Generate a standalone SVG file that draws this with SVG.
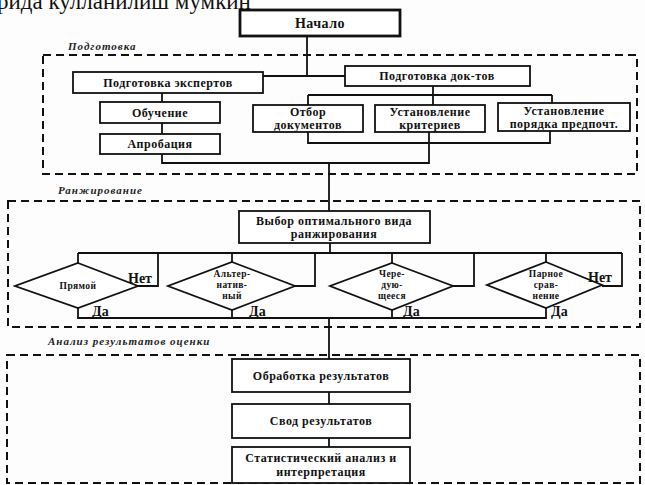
<svg xmlns="http://www.w3.org/2000/svg" width="645" height="485" viewBox="0 0 645 485">
  <style>
    .box { fill: #fff; stroke: #111; stroke-width: 1.8; }
    .start { fill: #fff; stroke: #111; stroke-width: 2.8; }
    .dia { fill: #fff; stroke: #111; stroke-width: 1.8; }
    .zone { fill: none; stroke: #111; stroke-width: 2; stroke-dasharray: 8 5; }
    .wire { fill: none; stroke: #111; stroke-width: 1.8; }
    .t { font-family: "Liberation Serif", "DejaVu Serif", serif; font-size: 12px; letter-spacing: 0.5px; font-weight: bold; fill: #111; text-anchor: middle; }
    .big { font-size: 14px; }
    .ts { font-family: "Liberation Serif", "DejaVu Serif", serif; font-size: 9.5px; letter-spacing: 0.4px; font-weight: bold; fill: #111; text-anchor: middle; }
    .yn { font-family: "Liberation Serif", "DejaVu Serif", serif; font-size: 14px; font-weight: bold; fill: #111; }
    .lbl { font-family: "Liberation Serif", "DejaVu Serif", serif; font-size: 11px; letter-spacing: 1px; font-style: italic; font-weight: bold; fill: #222; }
    .head { font-family: "Liberation Serif", "DejaVu Serif", serif; font-size: 23px; fill: #111; }
  </style>
  <rect width="645" height="485" fill="#fdfdfd"/>

  <text class="head" x="-3" y="9">рида кулланилиш мумкин</text>

  <!-- stage frames -->
  <g id="zones">
    <rect class="zone" x="43" y="55" width="594" height="119"/>
    <text class="lbl" x="68" y="50">Подготовка</text>
    <rect class="zone" x="8" y="201" width="632" height="126"/>
    <text class="lbl" x="58" y="194">Ранжирование</text>
    <rect class="zone" x="7" y="355" width="633" height="128"/>
    <text class="lbl" x="48" y="345">Анализ результатов оценки</text>
  </g>

  <!-- connectors -->
  <g id="connectors">
    <path class="wire" d="M307 36 V76 M263 76 H345"/>
    <path class="wire" d="M162 93 V102 M162 123 V134 M162 154 V163 H429 V132"/>
    <path class="wire" d="M433 86 V95 M308 95 H552 M308 95 V105 M433 95 V105 M552 95 V103"/>
    <path class="wire" d="M308 132 V143 H550 V131"/>
    <path class="wire" d="M329 163 V211"/>
    <path class="wire" d="M330 243 V253 M78 253 H622"/>
    <path class="wire" d="M78 253 V263 M232 253 V262 M392 253 V263 M546 253 V262"/>
    <path class="wire" d="M138 286 H158 V253 M295 286 H315 V253 M453 286 H474 V253 M602 286 H622 V253"/>
    <path class="wire" d="M78 308 V318 H546 V308 M232 310 V318 M392 310 V318"/>
    <path class="wire" d="M329 318 V359 M329 392 V404 M329 438 V447"/>
  </g>

  <g id="start">
    <rect class="start" x="240" y="10" width="160" height="26"/>
    <text class="t big" x="320" y="28">Начало</text>
  </g>

  <g id="prep-experts">
    <rect class="box" x="73" y="72" width="190" height="21"/>
    <text class="t" x="168" y="87">Подготовка экспертов</text>
  </g>
  <g id="prep-docs">
    <rect class="box" x="345" y="66" width="185" height="20"/>
    <text class="t" x="437" y="80">Подготовка док-тов</text>
  </g>
  <g id="training">
    <rect class="box" x="100" y="102" width="120" height="21"/>
    <text class="t" x="160" y="117">Обучение</text>
  </g>
  <g id="approbation">
    <rect class="box" x="100" y="134" width="120" height="20"/>
    <text class="t" x="160" y="148">Апробация</text>
  </g>
  <g id="doc-selection">
    <rect class="box" x="253" y="105" width="110" height="27"/>
    <text class="t" x="308" y="116">Отбор</text>
    <text class="t" x="308" y="129">документов</text>
  </g>
  <g id="criteria">
    <rect class="box" x="375" y="105" width="110" height="27"/>
    <text class="t" x="430" y="116">Установление</text>
    <text class="t" x="430" y="129">критериев</text>
  </g>
  <g id="preference-order">
    <rect class="box" x="498" y="103" width="132" height="28"/>
    <text class="t" x="564" y="115">Установление</text>
    <text class="t" x="564" y="128">порядка предпочт.</text>
  </g>

  <g id="ranking-choice">
    <rect class="box" x="239" y="211" width="191" height="32"/>
    <text class="t" x="334" y="225">Выбор оптимального вида</text>
    <text class="t" x="334" y="238">ранжирования</text>
  </g>

  <g id="direct">
    <polygon class="dia" points="78,263 138,286 78,308 15,286"/>
    <text class="ts" x="78" y="289">Прямой</text>
    <text class="yn" x="128" y="283">Нет</text>
    <text class="yn" x="92" y="316">Да</text>
  </g>
  <g id="alternative">
    <polygon class="dia" points="232,262 295,286 232,310 168,286"/>
    <text class="ts" x="232" y="277">Альтер-</text>
    <text class="ts" x="232" y="288">натив-</text>
    <text class="ts" x="232" y="299">ный</text>
    <text class="yn" x="249" y="316">Да</text>
  </g>
  <g id="alternating">
    <polygon class="dia" points="392,263 453,286 392,310 330,286"/>
    <text class="ts" x="392" y="277">Чере-</text>
    <text class="ts" x="392" y="288">дую-</text>
    <text class="ts" x="392" y="299">щееся</text>
    <text class="yn" x="403" y="316">Да</text>
  </g>
  <g id="pairwise">
    <polygon class="dia" points="546,262 602,285 546,308 487,285"/>
    <text class="ts" x="546" y="277">Парное</text>
    <text class="ts" x="546" y="288">срав-</text>
    <text class="ts" x="546" y="299">нение</text>
    <text class="yn" x="588" y="282">Нет</text>
    <text class="yn" x="551" y="316">Да</text>
  </g>

  <g id="processing">
    <rect class="box" x="232" y="359" width="178" height="33"/>
    <text class="t" x="321" y="380">Обработка результатов</text>
  </g>
  <g id="summary">
    <rect class="box" x="232" y="404" width="178" height="34"/>
    <text class="t" x="321" y="425">Свод результатов</text>
  </g>
  <g id="analysis">
    <rect class="box" x="232" y="447" width="178" height="36"/>
    <text class="t" x="321" y="462">Статистический анализ и</text>
    <text class="t" x="321" y="476">интерпретация</text>
  </g>
</svg>
